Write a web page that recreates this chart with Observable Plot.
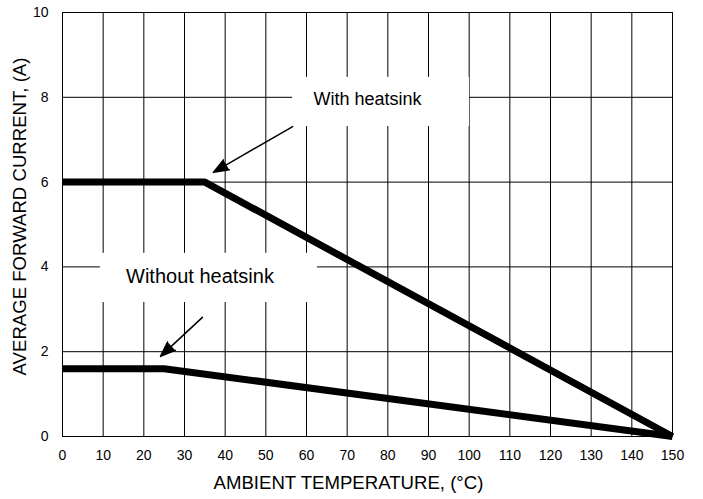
<!DOCTYPE html>
<html><head><meta charset="utf-8">
<script src="https://cdn.jsdelivr.net/npm/d3@7"></script>
<script src="https://cdn.jsdelivr.net/npm/@observablehq/plot@0.6"></script>
<style>body{margin:0;background:#fff}</style>
</head><body><div id="chart"></div>
<script>
// Tick values
const xTicks = [0, 10, 20, 30, 40, 50, 60, 70, 80, 90, 100, 110, 120, 130, 140, 150];
const yTicks = [0, 2, 4, 6, 8, 10];

// Series: with heatsink
const withTemp = [0, 35, 150];
const withCurrent = [6, 6, 0];
// Series: without heatsink
const withoutTemp = [0, 25, 150];
const withoutCurrent = [1.6, 1.6, 0];

// Annotations (data coordinates)
const labelText = ["With heatsink", "Without heatsink"];
const labelX = [75, 33.8];
const labelY = [7.96, 3.78];
const labelSize = [18, 20];
const boxX1 = [56.6, 9.3];
const boxX2 = [100.1, 62.7];
const boxY1 = [7.31, 3.16];
const boxY2 = [8.47, 4.32];
const arrowX1 = [56.6, 34.4];
const arrowY1 = [7.31, 2.81];
const arrowX2 = [37.1, 24.1];
const arrowY2 = [6.23, 1.89];

const xTitle = "AMBIENT TEMPERATURE, (°C)";
const yTitle = "AVERAGE FORWARD CURRENT, (A)";

const withData = withTemp.map((t, i) => ({t, c: withCurrent[i]}));
const withoutData = withoutTemp.map((t, i) => ({t, c: withoutCurrent[i]}));
const idx = labelText.map((_, i) => i);

const chart = Plot.plot({
  width: 703,
  height: 499,
  marginTop: 12,
  marginRight: 31,
  marginBottom: 63,
  marginLeft: 62,
  style: {fontFamily: "'Liberation Sans', Arial, sans-serif", color: "black", background: "white"},
  x: {domain: [0, 150]},
  y: {domain: [0, 10]},
  marks: [
    Plot.ruleX(xTicks, {stroke: "black", strokeWidth: 1}),
    Plot.ruleY(yTicks, {stroke: "black", strokeWidth: 1}),
    Plot.rect(idx, {x1: i => boxX1[i], x2: i => boxX2[i], y1: i => boxY1[i], y2: i => boxY2[i], fill: "white"}),
    Plot.line(withData, {x: "t", y: "c", stroke: "black", strokeWidth: 7, strokeLinecap: "butt", strokeLinejoin: "miter"}),
    Plot.line(withoutData, {x: "t", y: "c", stroke: "black", strokeWidth: 7, strokeLinecap: "butt", strokeLinejoin: "miter"}),
    Plot.arrow(idx, {x1: i => arrowX1[i], y1: i => arrowY1[i], x2: i => arrowX2[i], y2: i => arrowY2[i],
      stroke: "black", fill: "black", strokeWidth: 1.5, headLength: 16, headAngle: 42}),
    Plot.text(idx, {x: i => labelX[i], y: i => labelY[i], text: i => labelText[i], fontSize: i => labelSize[i], fill: "black", textAnchor: "middle", lineAnchor: "middle"}),
    Plot.axisX({ticks: xTicks, tickSize: 0, tickPadding: 14, fontSize: 14, label: null}),
    Plot.axisY({ticks: yTicks, tickSize: 0, tickPadding: 14, fontSize: 14, label: null}),
    Plot.text([xTitle], {frameAnchor: "bottom", dy: 47, dx: -19, fontSize: 18.6, fill: "black", textAnchor: "middle", lineAnchor: "middle"}),
    Plot.text([yTitle], {frameAnchor: "left", dx: -42, dy: -8, rotate: -90, fontSize: 18.6, fill: "black", textAnchor: "middle", lineAnchor: "middle"})
  ]
});
document.getElementById("chart").appendChild(chart);
</script>
</body></html>
